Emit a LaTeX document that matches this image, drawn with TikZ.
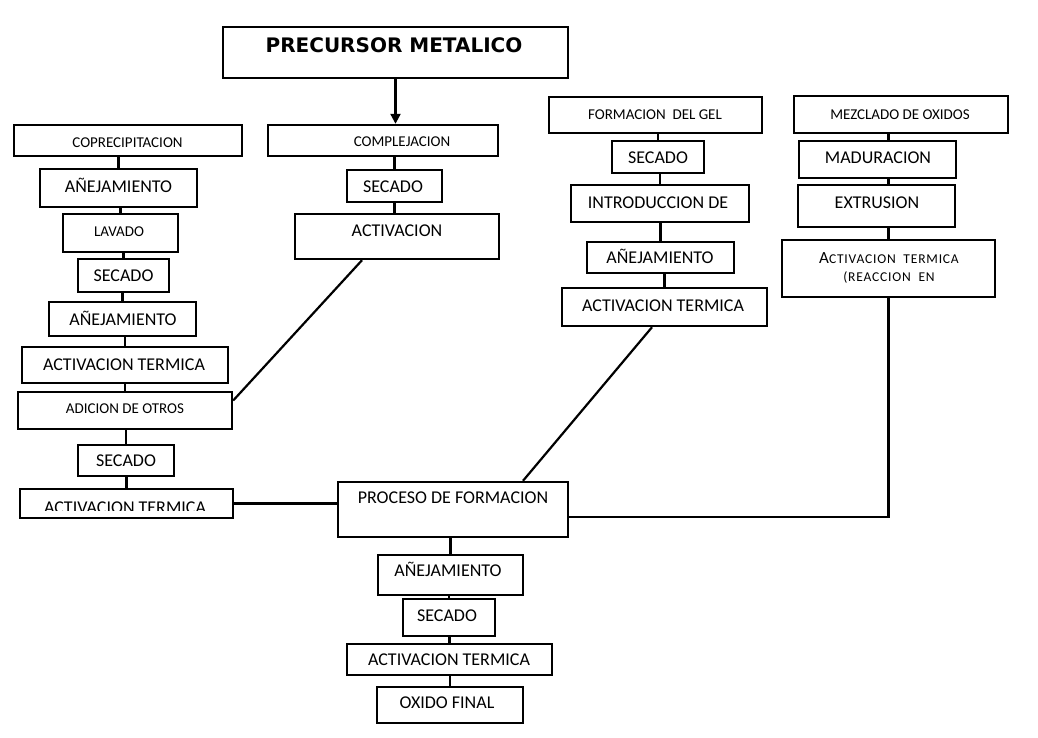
\documentclass[tikz,border=0pt]{standalone}
\usepackage{fontspec}
\setmainfont{Carlito}
\newfontfamily\dvfont{DejaVu Sans}
\usetikzlibrary{arrows.meta}
\newcommand\bx[5]{\node[box, minimum width={(#4-#2)*1pt}, minimum height={(#5-#3)*1pt}] (#1) at ({(#2+#4)/2},{(#3+#5)/2}) {};}
\begin{document}
\begin{tikzpicture}[x=1pt,y=-1pt,
  box/.style={draw, line width=2.4pt, inner sep=0pt, rectangle},
  big/.style={inner sep=0pt, text height=11.6pt, text depth=0pt, font=\fontsize{18}{20}\selectfont},
  sml/.style={inner sep=0pt, text height=9.7pt, text depth=0pt, font=\fontsize{15}{17}\selectfont},
  ttl/.style={inner sep=0pt, text height=14.6pt, text depth=0pt, font=\dvfont\bfseries\fontsize{20}{22}\selectfont},
  scap/.style={inner sep=0pt, anchor=base},
  conn/.style={line width=2.2pt}]
\useasboundingbox[fill=white] (0,0) rectangle (1038,738);
% boxes
\bx{prec}{223}{27}{568}{78}
\bx{copre}{14}{125}{242}{156}
\bx{comp}{268}{125}{498}{156}
\bx{anej1}{40}{169}{197}{207}
\bx{lav}{63}{214}{178}{252}
\bx{sec1}{78}{259}{169}{292}
\bx{anej2}{49}{302}{196}{336}
\bx{act1}{22}{347}{228}{383}
\bx{adic}{18}{392}{232}{429}
\bx{sec2}{78}{445}{174}{476}
\bx{act2}{20}{489}{233}{518}
\bx{proc}{338}{482}{568}{537}
\bx{secc}{347}{170}{442}{202}
\bx{actc}{295}{214}{499}{259}
\bx{form}{549}{97}{762}{133}
\bx{secg}{612}{141}{704}{173}
\bx{intro}{571}{185}{749}{222}
\bx{anejg}{587}{242}{734}{273}
\bx{actg}{562}{288}{767}{326}
\bx{mez}{794}{96}{1008}{133}
\bx{mad}{799}{141}{956}{178}
\bx{ext}{798}{185}{955}{227}
\bx{actr}{782}{240}{995}{297}
\bx{anejb}{378}{555}{523}{595}
\bx{secb}{403}{599}{495}{636}
\bx{actb}{347}{644}{552}{675}
\bx{oxi}{377}{687}{523}{723}
% texts
\node[ttl] (prec-t) at (394,45) {PRECURSOR METALICO};
\node[sml] (copre-t) at (127.5,143) {COPRECIPITACION};
\node[sml] (comp-t) at (402,142) {COMPLEJACION};
\node[big] (anej1-t) at (118.5,187) {AÑEJAMIENTO};
\node[sml] (lav-t) at (119,232) {LAVADO};
\node[big] (sec1-t) at (123.5,276) {SECADO};
\node[big] (anej2-t) at (123,320) {AÑEJAMIENTO};
\node[big] (act1-t) at (124,365) {ACTIVACION TERMICA};
\node[sml] (adic-t) at (125,409) {ADICION DE OTROS};
\node[big] (sec2-t) at (126,461) {SECADO};
\begin{scope}
  \clip (act2.north west) rectangle ([yshift=9pt]act2.south east);
  \node[big] (act2-t) at (125,508) {ACTIVACION TERMICA};
\end{scope}
\node[big] (proc-t) at (453,498) {PROCESO DE FORMACION};
\node[big] (secc-t) at (393,187) {SECADO};
\node[big] (actc-t) at (397,231) {ACTIVACION};
\node[sml] (form-t) at (655,115) {FORMACION\ \ DEL GEL};
\node[big] (secg-t) at (658,158) {SECADO};
\node[big] (intro-t) at (658,203) {INTRODUCCION DE};
\node[big] (anejg-t) at (660,258) {AÑEJAMIENTO};
\node[big] (actg-t) at (663,306) {ACTIVACION TERMICA};
\node[sml] (mez-t) at (900,115) {MEZCLADO DE OXIDOS};
\node[big] (mad-t) at (878,158) {MADURACION};
\node[big] (ext-t) at (877,203) {EXTRUSION};
\node[scap] (actr-t1) at (889,263.5) {{\fontsize{17}{19}\selectfont A}{\fontsize{13.5}{19}\selectfont\addfontfeature{LetterSpace=6}CTIVACION\ \ TERMICA}};
\node[scap] (actr-t2) at (889,281) {{\fontsize{13.5}{19}\selectfont\addfontfeature{LetterSpace=6}(REACCION\ \ EN}};
\node[big] (anejb-t) at (448,571) {AÑEJAMIENTO};
\node[big] (secb-t) at (447,616) {SECADO};
\node[big] (actb-t) at (449,660) {ACTIVACION TERMICA};
\node[big] (oxi-t) at (447,703) {OXIDO FINAL};
% connectors
\draw[conn,-{Triangle[length=10pt,width=10pt]}] (prec.south) -- (prec.south |- comp.north);
\foreach \a/\b in {copre/anej1,anej1/lav,lav/sec1,sec1/anej2,anej2/act1,act1/adic,adic/sec2,sec2/act2,
                   form/secg,secg/intro,intro/anejg,anejg/actg,
                   proc/anejb,anejb/secb,secb/actb,actb/oxi}
  \draw[conn] (\a.south -| \b.north) -- (\b.north);
\draw[conn] (comp.south -| secc.north) -- (secc.north);
\draw[conn] (secc.south) -- (secc.south |- actc.north);
\draw[conn] (mez.south -| actr.north) -- (mad.north -| actr.north);
\draw[conn] (mad.south -| actr.north) -- (ext.north -| actr.north);
\draw[conn] (ext.south -| actr.north) -- (actr.north);
\draw[conn] ([yshift=-7.5pt]proc.east) -| (actr.south);
\draw[conn] (act2.east) -- (act2.east -| proc.west);
\draw[conn] ([yshift=10pt]adic.east) -- ([xshift=-35pt]actc.south);
\draw[conn] ([xshift=70pt]proc.north) -- ([xshift=-12.5pt]actg.south);
\end{tikzpicture}
\end{document}
